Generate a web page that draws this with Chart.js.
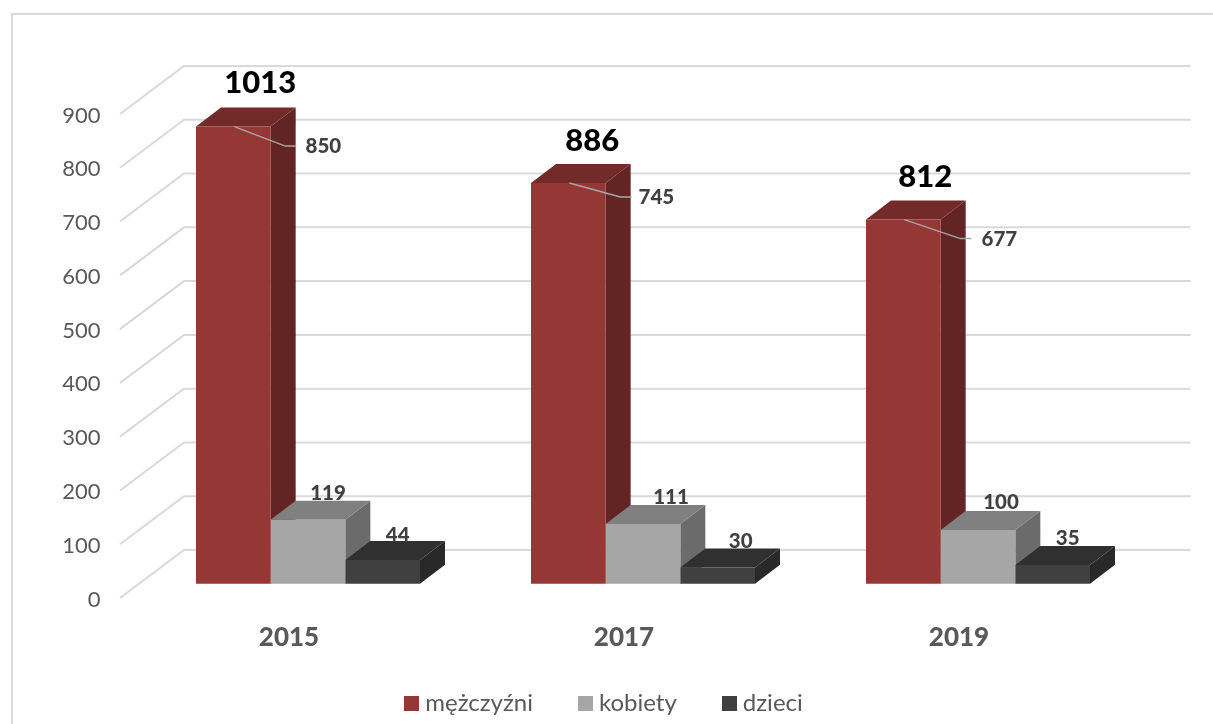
<!DOCTYPE html>
<html lang="pl">
<head>
<meta charset="utf-8">
<title>Wykres</title>
<script src="https://cdn.jsdelivr.net/npm/chart.js@4"></script>
<style>html,body{margin:0;padding:0;background:#fff}canvas{display:block}</style>
</head>
<body>
<canvas id="c" width="1213" height="724"></canvas>
<script>
const categories = ['2015', '2017', '2019'];
const men = [850, 745, 677];
const women = [119, 111, 100];
const children = [44, 30, 35];
const totals = [1013, 886, 812];

const FONT = 'Lato, Carlito, sans-serif';
const faces = [
  {front: '#953735', top: '#722B29', side: '#632523'},
  {front: '#A6A6A6', top: '#808080', side: '#6B6B6B'},
  {front: '#404040', top: '#303030', side: '#292929'}
];
// projection offsets of the 3D view
const PLANE = {dx: 19, dy: -14.3};   // bars' front plane relative to the axis plane
const DEPTH = {dx: 25, dy: -19};     // bar depth
const WALL = {dx: 64, dy: -48};      // back wall relative to the axis plane
// label placement, relative to the front top centre of each bar
const leaderOffsets = [{ex: 52, ey: 19.5, lx: 90, ly: 20}, {ex: 52, ey: 14, lx: 88, ly: 14}, {ex: 57, ey: 19, lx: 96, ly: 20}];
const smallOffsets = [[{dx: 20, dy: -26}, {dx: 15, dy: -25}], [{dx: 28, dy: -27}, {dx: 23, dy: -26}], [{dx: 23, dy: -28}, {dx: 15, dy: -26}]];
const totalOffsets = [{dx: 27, dy: -44}, {dx: 24, dy: -42}, {dx: 22, dy: -43}];

function swatch(color) {
  const s = document.createElement('canvas');
  s.width = 15; s.height = 15;
  const g = s.getContext('2d');
  g.fillStyle = color; g.fillRect(0, 0, 15, 15);
  return s;
}
function quad(ctx, pts, color) {
  ctx.beginPath();
  pts.forEach((p, i) => i ? ctx.lineTo(p[0], p[1]) : ctx.moveTo(p[0], p[1]));
  ctx.closePath();
  ctx.fillStyle = color;
  ctx.fill();
}
function barBox(chart, di, i) {
  const b = chart.getDatasetMeta(di).data[i].getProps(['x', 'y', 'base', 'width'], true);
  return {
    l: b.x - b.width / 2 + PLANE.dx,
    r: b.x + b.width / 2 + PLANE.dx,
    cx: b.x + PLANE.dx,
    t: b.y + PLANE.dy,
    b: b.base + PLANE.dy
  };
}

const scene = {
  id: 'scene',
  beforeDraw(chart) {
    const ctx = chart.ctx;
    ctx.save();
    ctx.fillStyle = '#fff';
    ctx.fillRect(0, 0, chart.width, chart.height);
    ctx.strokeStyle = '#D9D9D9';
    ctx.lineWidth = 2;
    ctx.beginPath();
    ctx.moveTo(12, chart.height); ctx.lineTo(12, 14); ctx.lineTo(chart.width, 14);
    ctx.stroke();
    ctx.restore();
  },
  beforeDatasetsDraw(chart) {
    const ctx = chart.ctx, y = chart.scales.y, area = chart.chartArea;
    ctx.save();
    ctx.strokeStyle = '#D9D9D9';
    ctx.lineWidth = 2;
    y.ticks.forEach(t => {
      const py = y.getPixelForValue(t.value);
      ctx.beginPath();
      ctx.moveTo(area.left - 1.5, py);
      ctx.lineTo(area.left + WALL.dx - 1.5, py + WALL.dy);
      ctx.lineTo(area.right + WALL.dx, py + WALL.dy);
      ctx.stroke();
    });
    chart.data.datasets.forEach((ds, di) => {
      categories.forEach((_, i) => {
        const b = barBox(chart, di, i);
        quad(ctx, [[b.r, b.t], [b.r + DEPTH.dx, b.t + DEPTH.dy], [b.r + DEPTH.dx, b.b + DEPTH.dy], [b.r, b.b]], faces[di].side);
        quad(ctx, [[b.l, b.t], [b.l + DEPTH.dx, b.t + DEPTH.dy], [b.r + DEPTH.dx, b.t + DEPTH.dy], [b.r, b.t]], faces[di].top);
      });
    });
    ctx.restore();
    ctx.save();
    ctx.translate(PLANE.dx, PLANE.dy);
  },
  afterDatasetsDraw(chart) {
    const ctx = chart.ctx;
    ctx.restore();
    ctx.save();
    ctx.textAlign = 'center';
    ctx.textBaseline = 'middle';
    categories.forEach((_, i) => {
      const m = barBox(chart, 0, i), o = leaderOffsets[i];
      ctx.strokeStyle = '#A6A6A6';
      ctx.lineWidth = 1.5;
      ctx.beginPath();
      ctx.moveTo(m.cx + 1, m.t);
      ctx.lineTo(m.cx + o.ex, m.t + o.ey);
      ctx.lineTo(m.cx + o.ex + 11, m.t + o.ey);
      ctx.stroke();
      ctx.fillStyle = '#404040';
      ctx.font = '900 20.5px ' + FONT;
      ctx.fillText(String(men[i]), m.cx + o.lx, m.t + o.ly);
      [women, children].forEach((series, s) => {
        const b = barBox(chart, s + 1, i), so = smallOffsets[i][s];
        ctx.fillText(String(series[i]), b.cx + so.dx, b.t + so.dy);
      });
      const to = totalOffsets[i];
      ctx.fillStyle = '#000';
      ctx.font = '900 31px ' + FONT;
      ctx.fillText(String(totals[i]), m.cx + to.dx, m.t + to.dy);
    });
    ctx.restore();
  }
};

const legendPlacement = {
  id: 'legendPlacement',
  beforeLayout(chart) {
    const legend = chart.legend;
    if (legend._fitWrapped) return;
    legend._fitWrapped = true;
    const fit = legend.fit;
    legend.fit = function () { fit.call(this); this.height = 70; };
  },
  afterLayout(chart) {
    chart.legend.top = 640;
    chart.legend.height = 84;
    chart.legend.bottom = 724;
  }
};

new Chart(document.getElementById('c'), {
  type: 'bar',
  data: {
    labels: categories,
    datasets: [
      {label: 'mężczyźni', data: men, backgroundColor: faces[0].front, clip: false},
      {label: 'kobiety', data: women, backgroundColor: faces[1].front, clip: false},
      {label: 'dzieci', data: children, backgroundColor: faces[2].front, clip: false}
    ]
  },
  options: {
    responsive: false,
    animation: false,
    layout: {padding: {left: 0, right: 0, top: 114, bottom: 0}},
    datasets: {bar: {categoryPercentage: 0.6687, barPercentage: 1}},
    scales: {
      x: {
        grid: {display: false},
        border: {display: false},
        ticks: {padding: 16, maxRotation: 0, color: '#595959', font: {family: FONT, size: 26, weight: '900'}},
        afterFit(s) { s.height = 56; }
      },
      y: {
        min: 0, max: 900,
        grid: {display: false},
        border: {display: false},
        ticks: {stepSize: 100, padding: 13, labelOffset: 1.5, color: '#595959', font: {family: FONT, size: 22}},
        afterFit(s) { s.width = 121.5; }
      },
      yRight: {
        position: 'right',
        min: 0, max: 900,
        grid: {display: false},
        border: {display: false},
        ticks: {display: false},
        afterFit(s) { s.width = 86.5; }
      }
    },
    plugins: {
      tooltip: {enabled: false},
      legend: {
        position: 'bottom',
        labels: {
          usePointStyle: true,
          pointStyleWidth: 3,
          boxHeight: 15,
          padding: 51,
          color: '#595959',
          font: {family: FONT, size: 24},
          generateLabels(chart) {
            const items = Chart.defaults.plugins.legend.labels.generateLabels(chart);
            items.forEach(it => { it.pointStyle = swatch(it.fillStyle); });
            return items;
          }
        }
      }
    }
  },
  plugins: [scene, legendPlacement]
});
</script>
</body>
</html>
